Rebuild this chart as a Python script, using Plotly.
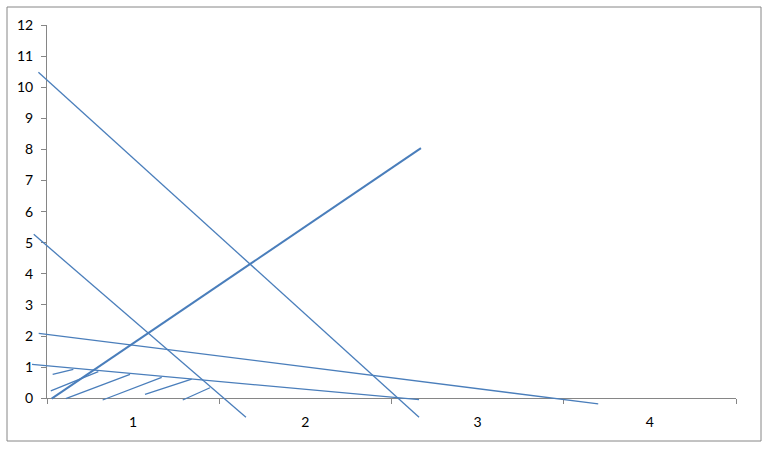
import plotly.graph_objects as go

# Category axis labels and value-axis ticks
categories = ["1", "2", "3", "4"]
y_ticks = list(range(0, 13))

# Line series (x in category-band units: 0 = left edge of band "1", 4 = right edge of band "4")
steep_long_x = [-0.05, 2.16]
steep_long_y = [10.48, -0.61]

steep_short_x = [-0.077, 1.155]
steep_short_y = [5.27, -0.61]

rising_x = [0.027, 2.171]
rising_y = [-0.01, 8.04]

shallow_upper_x = [-0.048, 3.20]
shallow_upper_y = [2.09, -0.18]

shallow_lower_x = [-0.087, 2.16]
shallow_lower_y = [1.09, -0.045]

# Short hatch segments (start x, start y, end x, end y)
hatch_x0 = [0.033, 0.022, 0.109, 0.323, 0.569, 0.788]
hatch_y0 = [0.77, 0.24, -0.01, -0.055, 0.13, -0.055]
hatch_x1 = [0.153, 0.298, 0.482, 0.666, 0.840, 0.946]
hatch_y1 = [0.93, 0.855, 0.77, 0.675, 0.62, 0.34]

LINE_COLOR = "#4a7ebb"
AXIS_COLOR = "#868686"

W, H = 768, 449
M = 10
plot_w, plot_h = W - 2 * M, H - 2 * M
# main axes pixel positions
px_left, px_right = 47, 736
py_zero, py_top = 398.3, 25

xd0 = (px_left - M) / plot_w
xd1 = (px_right - M) / plot_w
yd0 = (H - M - py_zero) / plot_h
yd1 = (H - M - py_top) / plot_h

# overlay ranges with identical scale but full-size clipping area
xspan = 4.0 / (xd1 - xd0)
x2_range = [0 - xd0 * xspan, 4 + (1 - xd1) * xspan]
yspan = 12.0 / (yd1 - yd0)
y2_range = [0 - yd0 * yspan, 12 + (1 - yd1) * yspan]

fig = go.Figure()

# invisible trace to anchor the main category axes
fig.add_trace(go.Scatter(x=categories, y=[None] * 4, xaxis="x", yaxis="y",
                         mode="lines", showlegend=False, hoverinfo="skip"))

series = [
    (steep_long_x, steep_long_y, 1.3),
    (steep_short_x, steep_short_y, 1.3),
    (rising_x, rising_y, 2.0),
    (shallow_upper_x, shallow_upper_y, 1.3),
    (shallow_lower_x, shallow_lower_y, 1.3),
]
for sx, sy, w in series:
    fig.add_trace(go.Scatter(x=sx, y=sy, xaxis="x2", yaxis="y2", mode="lines",
                             line=dict(color=LINE_COLOR, width=w),
                             showlegend=False, hoverinfo="skip"))

for a, b, c, d in zip(hatch_x0, hatch_y0, hatch_x1, hatch_y1):
    fig.add_trace(go.Scatter(x=[a, c], y=[b, d], xaxis="x2", yaxis="y2", mode="lines",
                             line=dict(color=LINE_COLOR, width=1.3),
                             showlegend=False, hoverinfo="skip"))

fig.update_layout(
    template="none",
    width=W, height=H, autosize=False,
    margin=dict(l=M, r=M, t=M, b=M, pad=0, autoexpand=False),
    paper_bgcolor="white", plot_bgcolor="rgba(0,0,0,0)",
    font=dict(family="Lato, Carlito, sans-serif", size=14, color="#000000"),
    xaxis=dict(
        domain=[xd0, xd1], type="category", categoryarray=categories,
        categoryorder="array", range=[-0.5, 3.5], automargin=False,
        showline=True, linecolor=AXIS_COLOR, linewidth=1,
        ticks="outside", tickson="boundaries", ticklen=5, tickcolor=AXIS_COLOR,
        showgrid=False, zeroline=False, anchor="y", ticklabelstandoff=11,
        fixedrange=True,
    ),
    yaxis=dict(
        domain=[yd0, yd1], range=[0, 12], tickvals=y_ticks, automargin=False,
        showline=True, linecolor=AXIS_COLOR, linewidth=1,
        ticks="outside", ticklen=5, tickcolor=AXIS_COLOR,
        showgrid=False, zeroline=False, anchor="x", ticklabelstandoff=5,
        fixedrange=True,
    ),
    xaxis2=dict(domain=[0, 1], range=x2_range, visible=False, anchor="y2",
                automargin=False, fixedrange=True),
    yaxis2=dict(domain=[0, 1], range=y2_range, visible=False, anchor="x2",
                automargin=False, fixedrange=True),
    shapes=[dict(
        type="rect", xref="paper", yref="paper",
        x0=(7 - M) / plot_w, x1=(761 - M) / plot_w,
        y0=(H - M - 441) / plot_h, y1=(H - M - 7) / plot_h,
        line=dict(color=AXIS_COLOR, width=1), fillcolor="rgba(0,0,0,0)", layer="below",
    )],
)

fig.write_html(
    "out.html",
    config={"displayModeBar": False},
    post_script="document.body.style.margin='0';document.body.style.overflow='hidden';",
)
